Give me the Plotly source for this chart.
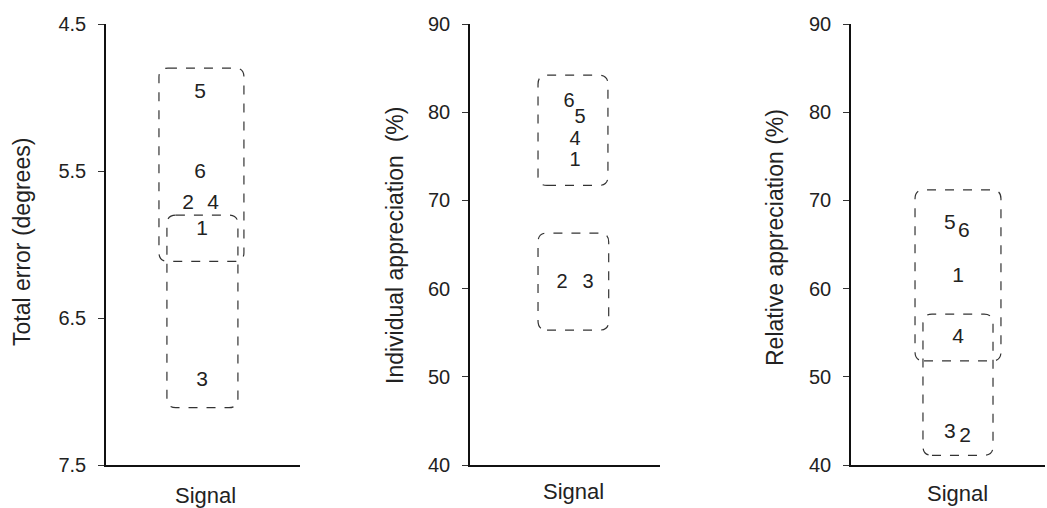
import plotly.graph_objects as go

W, H = 1047, 508

# ---------------- data ----------------
# Panel 1: Total error (degrees), reversed axis
p1_labels = ["5", "6", "2", "4", "1", "3"]
p1_x = [0.485, 0.485, 0.423, 0.552, 0.495, 0.495]
p1_y = [4.97, 5.51, 5.72, 5.72, 5.90, 6.93]
p1_box_x0 = [0.273, 0.314]
p1_box_x1 = [0.711, 0.680]
p1_box_y0 = [4.80, 5.80]
p1_box_y1 = [6.115, 7.11]
p1_ticks = [4.5, 5.5, 6.5, 7.5]

# Panel 2: Individual appreciation (%)
p2_labels = ["6", "5", "4", "1", "2", "3"]
p2_x = [0.521, 0.579, 0.553, 0.553, 0.484, 0.621]
p2_y = [81.2, 79.3, 76.9, 74.5, 60.6, 60.6]
p2_box_x0 = [0.358, 0.358]
p2_box_x1 = [0.726, 0.730]
p2_box_y0 = [71.7, 55.3]
p2_box_y1 = [84.2, 66.3]
p2_ticks = [40, 50, 60, 70, 80, 90]

# Panel 3: Relative appreciation (%)
p3_labels = ["5", "6", "1", "4", "3", "2"]
p3_x = [0.510, 0.582, 0.552, 0.552, 0.510, 0.588]
p3_y = [67.3, 66.4, 61.4, 54.4, 43.7, 43.2]
p3_box_x0 = [0.330, 0.371]
p3_box_x1 = [0.773, 0.732]
p3_box_y0 = [51.8, 41.1]
p3_box_y1 = [71.2, 57.1]
p3_ticks = [40, 50, 60, 70, 80, 90]

y_titles = ["Total error (degrees)", "Individual appreciation  (%)", "Relative appreciation (%)"]
x_title = "Signal"

# ---------------- layout geometry ----------------
FONT = "Liberation Sans, Arial, sans-serif"
TXT = "#222222"
xdoms = [(106 / W, 300 / W), (470 / W, 660 / W), (851 / W, 1045 / W)]
ydom = ((508 - 465) / H, (508 - 24) / H)
yranges = [[7.5, 4.5], [40, 90], [40, 90]]
label_sizes = [21, 20, 21]

panels = [
    (p1_labels, p1_x, p1_y, p1_box_x0, p1_box_x1, p1_box_y0, p1_box_y1, p1_ticks, [str(t) for t in p1_ticks]),
    (p2_labels, p2_x, p2_y, p2_box_x0, p2_box_x1, p2_box_y0, p2_box_y1, p2_ticks, [str(t) for t in p2_ticks]),
    (p3_labels, p3_x, p3_y, p3_box_x0, p3_box_x1, p3_box_y0, p3_box_y1, p3_ticks, [str(t) for t in p3_ticks]),
]

fig = go.Figure()
shapes = []
annotations = []

title_x_px = [22, 395, 775]
title_y_px = [242, 246, 238]
signal_x_px = [205, 573, 957]
signal_y_px = [495, 491, 493]


def rounded_path(x0, x1, y0, y1, rx, ry):
    return (f"M {x0+rx},{y0} L {x1-rx},{y0} Q {x1},{y0} {x1},{y0+ry} "
            f"L {x1},{y1-ry} Q {x1},{y1} {x1-rx},{y1} "
            f"L {x0+rx},{y1} Q {x0},{y1} {x0},{y1-ry} "
            f"L {x0},{y0+ry} Q {x0},{y0} {x0+rx},{y0} Z")


for i, (labs, xs, ys, bx0, bx1, by0, by1, ticks, ticktext) in enumerate(panels):
    n = i + 1
    xa = "x" if n == 1 else f"x{n}"
    ya = "y" if n == 1 else f"y{n}"
    fig.add_trace(go.Scatter(
        x=xs, y=ys, text=labs, mode="text", textposition="middle center",
        textfont=dict(family=FONT, size=label_sizes[i], color=TXT),
        xaxis=xa, yaxis=ya, showlegend=False, hoverinfo="skip", cliponaxis=False))

    # corner radius in data units (~9 px)
    xpx = (xdoms[i][1] - xdoms[i][0]) * W
    ypx = (ydom[1] - ydom[0]) * H
    rx = 9 * 1.0 / xpx
    ry = 9 * abs(yranges[i][1] - yranges[i][0]) / ypx
    for a, b, c, d in zip(bx0, bx1, by0, by1):
        shapes.append(dict(type="path", xref=xa, yref=ya,
                           path=rounded_path(a, b, c, d, rx, ry),
                           line=dict(color="#333333", width=1.2, dash="dash")))

    axis_x = dict(domain=list(xdoms[i]), range=[0, 1], showticklabels=False, ticks="",
                  showgrid=False, zeroline=False, showline=True, linecolor="#111111",
                  linewidth=1.5, anchor=ya, fixedrange=True, automargin=False)
    axis_y = dict(domain=list(ydom), range=yranges[i], tickmode="array", tickvals=ticks,
                  ticktext=ticktext, ticks="outside", ticklen=6, tickcolor="#333333",
                  tickwidth=1, showgrid=False, zeroline=False, showline=True,
                  linecolor="#111111", linewidth=1.5, anchor=xa, ticklabelstandoff=8,
                  tickfont=dict(family=FONT, size=20, color=TXT), fixedrange=True,
                  automargin=False)
    fig.layout[f"xaxis{'' if n == 1 else n}"] = axis_x
    fig.layout[f"yaxis{'' if n == 1 else n}"] = axis_y

    annotations.append(dict(text=y_titles[i], xref="paper", yref="paper",
                            x=title_x_px[i] / W, y=1 - title_y_px[i] / H,
                            xanchor="center", yanchor="middle", textangle=-90,
                            showarrow=False, font=dict(family=FONT, size=23, color=TXT)))
    annotations.append(dict(text=x_title, xref="paper", yref="paper",
                            x=signal_x_px[i] / W, y=1 - signal_y_px[i] / H,
                            xanchor="center", yanchor="middle",
                            showarrow=False, font=dict(family=FONT, size=22, color=TXT)))

fig.update_layout(width=W, height=H, margin=dict(l=0, r=0, t=0, b=0, autoexpand=False),
                  paper_bgcolor="white", plot_bgcolor="white", template="none",
                  shapes=shapes, annotations=annotations)

fig.write_html("out.html", config={"displayModeBar": False},
               post_script="document.body.style.margin='0';document.body.style.overflow='hidden';")
